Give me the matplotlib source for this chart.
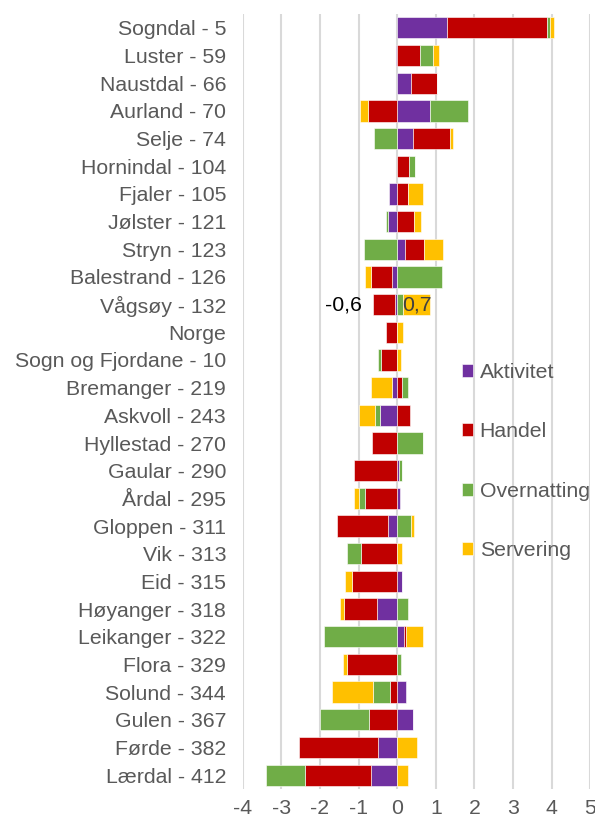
import numpy as np
import matplotlib.pyplot as plt

plt.rcParams['font.family'] = ['Liberation Sans', 'DejaVu Sans']

# kommunar, ovanfrå og ned
kommunar = ['Sogndal - 5', 'Luster - 59', 'Naustdal - 66', 'Aurland - 70', 'Selje - 74',
            'Hornindal - 104', 'Fjaler - 105', 'Jølster - 121', 'Stryn - 123',
            'Balestrand - 126', 'Vågsøy - 132', 'Norge', 'Sogn og Fjordane - 10',
            'Bremanger - 219', 'Askvoll - 243', 'Hyllestad - 270', 'Gaular - 290',
            'Årdal - 295', 'Gloppen - 311', 'Vik - 313', 'Eid - 315', 'Høyanger - 318',
            'Leikanger - 322', 'Flora - 329', 'Solund - 344', 'Gulen - 367',
            'Førde - 382', 'Lærdal - 412']

aktivitet = [1.30, -0.04, 0.35, 0.86, 0.42, 0, -0.21, -0.23, 0.20, -0.13, -0.05, 0,
             0, -0.14, -0.44, 0, 0.04, 0.08, -0.23, 0, 0.13, -0.53,
             0.17, 0, 0.22, 0.41, -0.49, -0.68]
handel = [2.57, 0.58, 0.67, -0.75, 0.96, 0.30, 0.29, 0.43, 0.49, -0.56, -0.57, -0.29,
          -0.42, 0.12, 0.34, -0.65, -1.11, -0.84, -1.34, -0.95, -1.18, -0.86,
          0.07, -1.29, -0.19, -0.72, -2.06, -1.70]
overnatting = [0.10, 0.35, 0, 0.98, -0.61, 0.15, 0, -0.06, -0.87, 1.15, 0.14, 0,
               -0.09, 0.16, -0.13, 0.68, 0.08, -0.16, 0.36, -0.34, 0, 0.28,
               -1.89, 0.10, -0.43, -1.29, 0, -1.01]
servering = [0.10, 0.15, 0, -0.22, 0.06, 0, 0.37, 0.19, 0.49, -0.15, 0.72, 0.16,
             0.11, -0.54, -0.41, 0, 0, -0.13, 0.08, 0.12, -0.16, -0.09,
             0.43, -0.12, -1.08, 0, 0.50, 0.27]

serier = [('Aktivitet', aktivitet, '#7030A0'),
          ('Handel', handel, '#C00000'),
          ('Overnatting', overnatting, '#70AD47'),
          ('Servering', servering, '#FFC000')]

fs = 15.3

fig = plt.figure(figsize=(5.95, 8.23), dpi=100)
ax = fig.add_axes([0.408, 0.0413, 0.584, 0.9417])

y = np.arange(len(kommunar))[::-1]
pos = np.zeros(len(kommunar))
neg = np.zeros(len(kommunar))
for namn, v, farge in serier:
    v = np.array(v)
    left = np.where(v >= 0, pos, neg)
    ax.barh(y, v, left=left, height=0.77, color=farge, edgecolor='white',
            linewidth=0.4, label=namn, zorder=3)
    pos += np.clip(v, 0, None)
    neg += np.clip(v, None, 0)

# dataetikettar for Vågsøy
i = kommunar.index('Vågsøy - 132')
ax.text(neg[i] - 0.3, y[i], '-0,6', ha='right', va='center', fontsize=fs,
        color='black', zorder=4)
s_left = pos[i] - servering[i]
ax.text(s_left + servering[i] / 2, y[i], '0,7', ha='center', va='center',
        fontsize=fs, color='#404040', zorder=4)

ax.set_xlim(-4, 5)
ax.set_ylim(-0.5, len(kommunar) - 0.5)
ax.set_xticks(range(-4, 6))
ax.set_xticklabels([str(t) for t in range(-4, 6)])
ax.set_yticks(y)
ax.set_yticklabels(kommunar)
ax.grid(axis='x', color='#D9D9D9', linewidth=1.5, zorder=0)
ax.set_axisbelow(True)
for s in ax.spines.values():
    s.set_visible(False)
ax.tick_params(axis='both', length=0, labelsize=fs, colors='#595959')
ax.tick_params(axis='y', pad=12)
ax.tick_params(axis='x', pad=7)

leg = ax.legend(loc='upper left', bbox_to_anchor=(0.758, 0.572),
                bbox_transform=fig.transFigure, frameon=False, fontsize=fs,
                handlelength=0.55, handleheight=0.55, handletextpad=0.3,
                labelspacing=1.9, borderpad=0)
for t in leg.get_texts():
    t.set_color('#595959')

fig.savefig('out.png', dpi=100)
